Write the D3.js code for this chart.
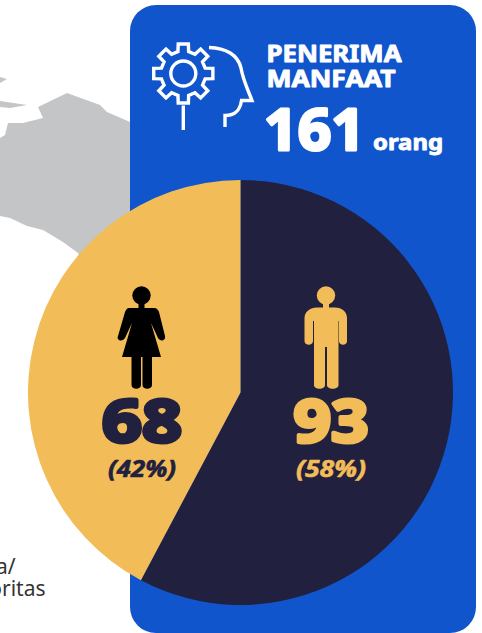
<!DOCTYPE html>
<html><head><meta charset="utf-8">
<script src="https://cdn.jsdelivr.net/npm/d3@7/dist/d3.min.js"></script>
<style>html,body{margin:0;padding:0;background:#fff}svg{display:block}text{font-family:"Noto Sans",sans-serif}</style>
</head><body>
<svg id="c" width="482" height="633"></svg>
<script>
const categories = ["Laki-laki", "Perempuan"];
const values = [93, 68];
const percentLabels = ["(58%)", "(42%)"];
const sliceColors = ["#22203f", "#f2bd58"];
const title = ["PENERIMA", "MANFAAT"];
const total = 161;
const unit = "orang";
const sideText = ["a/", "oritas"];

const svg = d3.select("#c");

function heavy(sel, color, sw, len){
  sel.attr("fill",color).attr("stroke",color).attr("stroke-width",sw).attr("stroke-linejoin","round")
     .attr("font-weight",700).attr("lengthAdjust","spacingAndGlyphs").attr("textLength",len);
  return sel;
}

// background map fragment
const mapShapes = [
 "M0,138L5,135L8,123L23,123L43,118L38,107L67,93L100,105L107,112L130,122L135,215L80,258L78,253L63,242L43,230L27,226L10,218L0,216Z",
 "M0,101L27,105L10,108L0,107Z",
 "M0,77L7,79L0,83Z"
];
svg.selectAll("path.map").data(mapShapes).join("path").attr("class","map").attr("d",d=>d).attr("fill","#c4c5c7");

// blue panel
svg.append("rect").attr("x",130).attr("y",5).attr("width",346).attr("height",628).attr("rx",26).attr("fill","#1155cc");

// side text
svg.selectAll("text.side").data(sideText).join("text").attr("class","side")
  .attr("text-anchor","end").attr("x",(d,i)=>i?45.5:15.5).attr("y",(d,i)=>i?595.5:574)
  .attr("font-size",21).attr("fill","#333").text(d=>d);

// gear icon
const gc=[183.3,73.5], teeth=8, rOut=30, rIn=22.5;
const gearPts=[];
for(let i=0;i<teeth;i++){
  const a=i/teeth*2*Math.PI, w=0.17, w2=0.24;
  gearPts.push([a-w2,rIn],[a-w,rOut],[a+w,rOut],[a+w2,rIn]);
}
const gear=d3.lineRadial().angle(d=>d[0]).radius(d=>d[1]).curve(d3.curveLinearClosed);
const icon=svg.append("g").attr("fill","none").attr("stroke","#fff").attr("stroke-width",3.4);
icon.append("path").attr("transform",`translate(${gc})`).attr("d",gear(gearPts));
icon.append("circle").attr("cx",gc[0]).attr("cy",gc[1]).attr("r",12.5);
icon.append("path").attr("d","M183.3,105.5V130");
icon.append("path").attr("d","M209,47.5C226,48 238,55 241,68C243,80 248,90 252,100.5H241.5C240,110 236,115.5 225,115.5V127");

// titles
const titleLen=[135,129];
svg.selectAll("text.title").data(title).join("text").attr("class","title")
  .attr("x",266.5).attr("y",(d,i)=>62+i*24.5).attr("font-size",23).text(d=>d)
  .call(s=>heavy(s,"#fff",0.9,(d,i)=>titleLen[i]));
svg.append("text").attr("x",264).attr("y",150).attr("font-size",58).text(total).call(s=>heavy(s,"#fff",3,101));
svg.append("text").attr("x",373).attr("y",150).attr("font-size",22).text(unit).call(s=>heavy(s,"#fff",0.9,70));

// pie
const cx=240.5, cy=392.5, r=212.5;
const pie=d3.pie().sort(null)(values);
const arc=d3.arc().innerRadius(0).outerRadius(r);
svg.append("g").attr("transform",`translate(${cx},${cy})`)
  .selectAll("path").data(pie).join("path").attr("d",arc).attr("fill",(d,i)=>sliceColors[i]);

// people
const man="M317,307.5H335C342,307.5 347,312 347,318V341C347,346 339,346 339,341V321H338.5V385C338.5,390 327,390 327,385V347H325V385C325,390 314,390 314,385V321H313V341C313,346 304.5,346 304.5,341V318C304.5,312 310,307.5 317,307.5Z";
const woman="M129,308H154C157,308 158,310 159,312L165,336C166,341 160,342 158,338L151,323L161,357H152V385C152,390 142.5,390 142.5,385V357H141V385C141,390 131.5,390 131.5,385V357H122L132,323L125,338C123,342 116,341 118,336L125,312C126,310 127,308 129,308Z";
svg.append("circle").attr("cx",326).attr("cy",295.5).attr("r",9.2).attr("fill",sliceColors[1]);
svg.append("rect").attr("x",323).attr("y",302).attr("width",6).attr("height",7).attr("fill",sliceColors[1]);
svg.append("path").attr("d",man).attr("fill",sliceColors[1]);
svg.append("circle").attr("cx",141.5).attr("cy",295.5).attr("r",9.2).attr("fill","#000");
svg.append("rect").attr("x",138.5).attr("y",302).attr("width",6).attr("height",7).attr("fill","#000");
svg.append("path").attr("d",woman).attr("fill","#000");

// labels
const labelX=[331,142], labelCol=[sliceColors[1],sliceColors[0]];
const valLen=[75,80], pctLen=[70,68];
values.forEach((v,i)=>{
  svg.append("text").attr("x",labelX[i]).attr("y",442).attr("text-anchor","middle").attr("font-size",60).text(v)
    .call(s=>heavy(s,labelCol[i],4,valLen[i]));
  svg.append("text").attr("x",labelX[i]).attr("y",477).attr("text-anchor","middle").attr("font-size",23).attr("font-style","italic").text(percentLabels[i])
    .call(s=>heavy(s,labelCol[i],0.6,pctLen[i]));
});
</script>
</body></html>
